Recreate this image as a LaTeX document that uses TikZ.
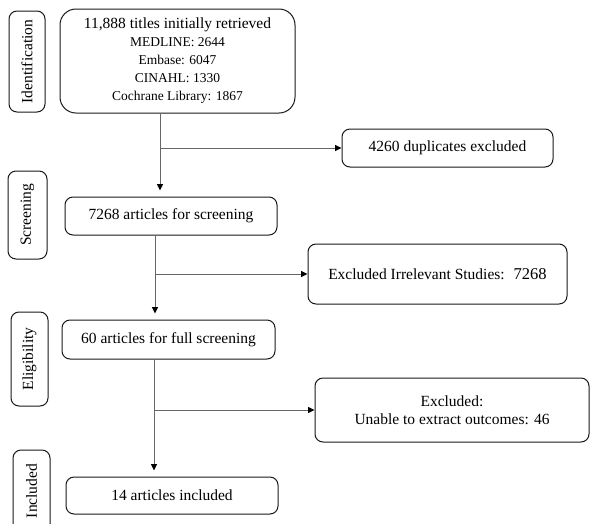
\documentclass[tikz,border=0pt]{standalone}
\usepackage{fontspec}
\setmainfont{Liberation Serif}
\usetikzlibrary{arrows.meta}
\begin{document}
\begin{tikzpicture}[x=1pt,y=-1pt,
  box/.style={draw=black!90, line width=1pt, rounded corners=8pt, inner sep=0pt,
    align=center, font=\fontsize{15.5}{18}\selectfont},
  bigbox/.style={box, rounded corners=16pt},
  stage/.style={box, rotate=90},
  conn/.style={draw=black!60, line width=0.9pt},
  arr/.style={conn, -{Triangle[length=6.5pt,width=6pt,color=black]}},
  arrdown/.style={arr, shorten >=6pt}]
\clip (0,0) rectangle (592,523);
\fill[white] (0,0) rectangle (592,523);

% stage labels
\node[stage, minimum width=101pt, minimum height=36pt] (lid) at (27,61.5) {Identification};
\node[stage, minimum width=88pt, minimum height=39pt] (lsc) at (27.5,215) {Screening};
\node[stage, minimum width=94pt, minimum height=37pt] (lel) at (29.5,359) {Eligibility};
\node[stage, minimum width=82pt, minimum height=37pt] (lin) at (31.5,491) {Included};

% main boxes
\node[bigbox, minimum width=235pt, minimum height=104pt] (b1) at (177.5,61)
  {\fontsize{15.5}{16}\selectfont 11,888 titles initially retrieved\\
   \fontsize{13.5}{16}\selectfont MEDLINE: 2644\\
   \fontsize{13.5}{16}\selectfont Embase: 6047\\
   \fontsize{13.5}{16}\selectfont CINAHL: 1330\\
   \fontsize{13.5}{16}\selectfont Cochrane Library: 1867};
\node[box, minimum width=212pt, minimum height=38pt] (s1) at (171,216) {7268 articles for screening};
\node[box, minimum width=213pt, minimum height=39pt] (e1) at (168.5,339.5) {60 articles for full screening};
\node[box, minimum width=212pt, minimum height=37pt] (i1) at (172,495.5) {14 articles included};

% exclusion boxes
\node[box, minimum width=211pt, minimum height=38pt] (dup) at (447.5,148) {4260 duplicates excluded};
\node[box, minimum width=259pt, minimum height=60pt] (irr) at (437.5,274)
  {Excluded Irrelevant Studies:\hspace{9pt}{\fontsize{16.5}{18}\selectfont 7268}};
\node[box, minimum width=274pt, minimum height=64pt] (exc) at (452,410)
  {\fontsize{15.5}{20}\selectfont Excluded:\\ Unable to extract outcomes: 46};

% connector columns
\coordinate (x1) at (160,0);
\coordinate (x2) at (155,0);
\coordinate (x3) at (154,0);

\draw[arrdown] (b1.south -| x1) -- (s1.north -| x1);
\draw[arr] (x1 |- dup.west) -- (dup.west);

\draw[arrdown] (s1.south -| x2) -- (e1.north -| x2);
\draw[arr] (x2 |- irr.west) -- (irr.west);

\draw[arrdown] (e1.south -| x3) -- (i1.north -| x3);
\draw[arr] (x3 |- exc.west) -- (exc.west);
\end{tikzpicture}
\end{document}
